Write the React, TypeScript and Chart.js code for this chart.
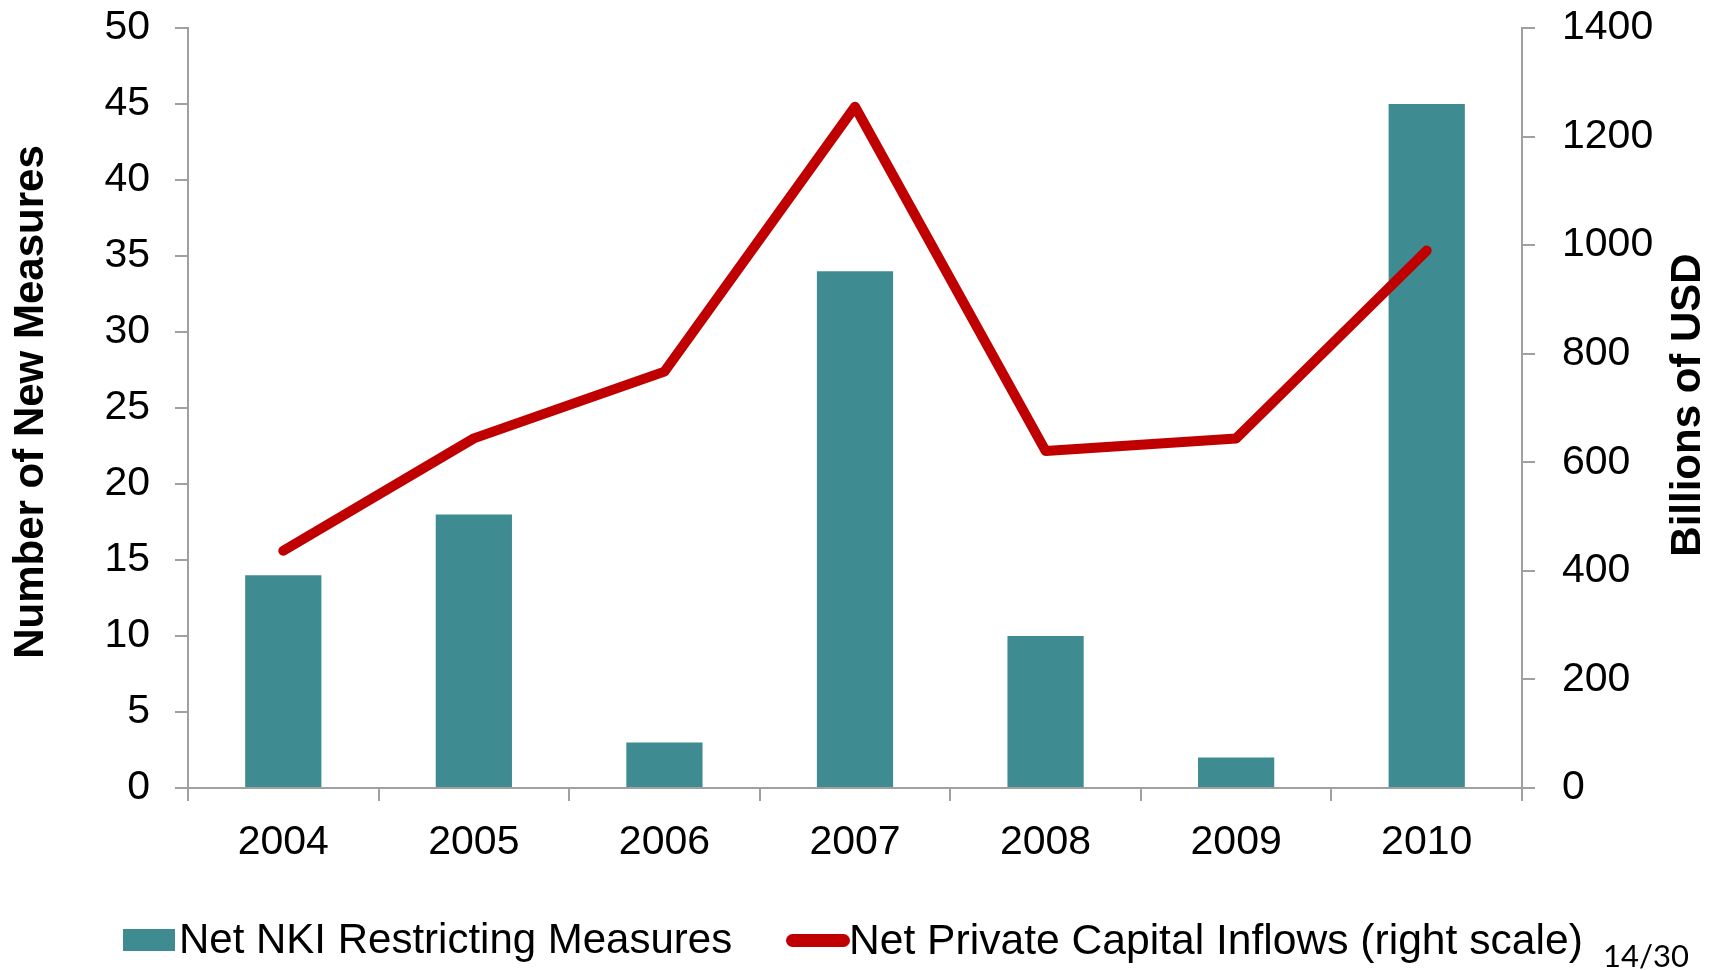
import React, { useEffect, useRef } from "react";
import { Chart, registerables } from "chart.js";

Chart.register(...registerables);

// ---- Data ----
const years = ["2004", "2005", "2006", "2007", "2008", "2009", "2010"];
const restrictingMeasures = [14, 18, 3, 34, 10, 2, 45];
const capitalInflows = [437, 644, 767, 1255, 621, 644, 990];

const leftAxisMin = 0;
const leftAxisMax = 50;
const leftAxisStep = 5;
const rightAxisMin = 0;
const rightAxisMax = 1400;
const rightAxisStep = 200;

const barLabel = "Net NKI Restricting Measures";
const lineLabel = "Net Private Capital Inflows (right scale)";
const leftTitle = "Number of New Measures";
const rightTitle = "Billions of USD";
const pageNumber = "14/30";

const TEAL = "#3E8C91";
const RED = "#C00000";
const AXIS = "#A0A0A0";
const FONT = "'Liberation Sans', Arial, Helvetica, sans-serif";

// Both axis titles read bottom-to-top, as in the reference
const axisTitlesPlugin = {
  id: "axisTitles",
  afterDraw(chart: any) {
    const area = chart.chartArea;
    const ctx = chart.ctx;
    const midY = (area.top + area.bottom) / 2;
    const draw = (text: string, x: number, y: number) => {
      ctx.save();
      ctx.translate(x, y);
      ctx.rotate(-Math.PI / 2);
      ctx.font = `bold 42px ${FONT}`;
      ctx.fillStyle = "#000";
      ctx.textAlign = "center";
      ctx.textBaseline = "middle";
      ctx.fillText(text, 0, 0);
      ctx.restore();
    };
    draw(leftTitle, chart.scales.y.left + 31, midY - 6);
    draw(rightTitle, chart.scales.y1.right - 29, midY - 3);
  },
};

export default function App() {
  const canvasRef = useRef<HTMLCanvasElement | null>(null);

  useEffect(() => {
    if (!canvasRef.current) return;
    Chart.defaults.font.family = FONT;
    const chart = new Chart(canvasRef.current, {
      type: "bar",
      data: {
        labels: years,
        datasets: [
          {
            type: "line",
            label: lineLabel,
            data: capitalInflows,
            yAxisID: "y1",
            borderColor: RED,
            backgroundColor: RED,
            borderWidth: 10,
            pointRadius: 0,
            pointHoverRadius: 0,
            borderCapStyle: "round",
            borderJoinStyle: "round",
            tension: 0,
            order: 0,
          } as any,
          {
            type: "bar",
            label: barLabel,
            data: restrictingMeasures,
            yAxisID: "y",
            backgroundColor: TEAL,
            borderWidth: 0,
            barPercentage: 0.4,
            categoryPercentage: 1.0,
            order: 1,
          } as any,
        ],
      },
      options: {
        responsive: false,
        devicePixelRatio: 1,
        animation: false,
        layout: { padding: { top: 28, left: 0, right: 0, bottom: 0 } },
        plugins: {
          legend: { display: false },
          tooltip: { enabled: false },
          title: { display: false },
        },
        scales: {
          x: {
            type: "category",
            offset: true,
            grid: {
              offset: true,
              drawOnChartArea: false,
              drawTicks: true,
              tickLength: 13,
              color: AXIS,
              lineWidth: 2,
            },
            border: { color: AXIS, width: 2 },
            ticks: {
              color: "#000",
              font: { size: 41, family: FONT },
              padding: 17.5,
              maxRotation: 0,
            },
            afterFit: (s: any) => {
              s.height = 182;
              s.paddingLeft = 0;
              s.paddingRight = 0;
            },
          },
          y: {
            type: "linear",
            position: "left",
            min: leftAxisMin,
            max: leftAxisMax,
            ticks: {
              stepSize: leftAxisStep,
              color: "#000",
              font: { size: 41, family: FONT },
              padding: 25,
            },
            grid: {
              drawOnChartArea: false,
              drawTicks: true,
              tickLength: 13,
              color: AXIS,
              lineWidth: 2,
            },
            border: { color: AXIS, width: 2 },
            afterFit: (s: any) => {
              s.width = 188;
              s.paddingTop = 0;
              s.paddingBottom = 0;
            },
          },
          y1: {
            type: "linear",
            position: "right",
            min: rightAxisMin,
            max: rightAxisMax,
            ticks: {
              stepSize: rightAxisStep,
              color: "#000",
              font: { size: 41, family: FONT },
              padding: 27,
              callback: (v: any) => String(v),
            },
            grid: {
              drawOnChartArea: false,
              drawTicks: true,
              tickLength: 13,
              color: AXIS,
              lineWidth: 2,
            },
            border: { color: AXIS, width: 2 },
            afterFit: (s: any) => {
              s.width = 195;
              s.paddingTop = 0;
              s.paddingBottom = 0;
            },
          },
        },
      },
      plugins: [axisTitlesPlugin],
    });
    return () => chart.destroy();
  }, []);

  const textStyle: React.CSSProperties = {
    position: "absolute",
    fontFamily: FONT,
    fontSize: 42,
    lineHeight: "42px",
    color: "#000",
    whiteSpace: "nowrap",
  };

  return (
    <div
      style={{
        position: "fixed",
        left: 0,
        top: 0,
        width: 1717,
        height: 970,
        background: "#fff",
        overflow: "hidden",
      }}
    >
      <canvas
        ref={canvasRef}
        width={1717}
        height={970}
        style={{ position: "absolute", left: 0, top: 0, width: 1717, height: 970 }}
      />
      <div
        style={{
          position: "absolute",
          left: 123,
          top: 929,
          width: 52,
          height: 22,
          background: TEAL,
        }}
      />
      <span style={{ ...textStyle, left: 179, top: 917.5 }}>{barLabel}</span>
      <div
        style={{
          position: "absolute",
          left: 786,
          top: 933.5,
          width: 64,
          height: 13,
          borderRadius: 6.5,
          background: RED,
        }}
      />
      <span style={{ ...textStyle, left: 849, top: 917.5, fontSize: 42.6 }}>{lineLabel}</span>
      <span
        style={{
          position: "absolute",
          left: 1603,
          top: 939.5,
          fontFamily: "Lato, 'Open Sans', sans-serif",
          fontSize: 31,
          lineHeight: "31px",
          color: "#000",
          whiteSpace: "nowrap",
        }}
      >
        {pageNumber}
      </span>
    </div>
  );
}
